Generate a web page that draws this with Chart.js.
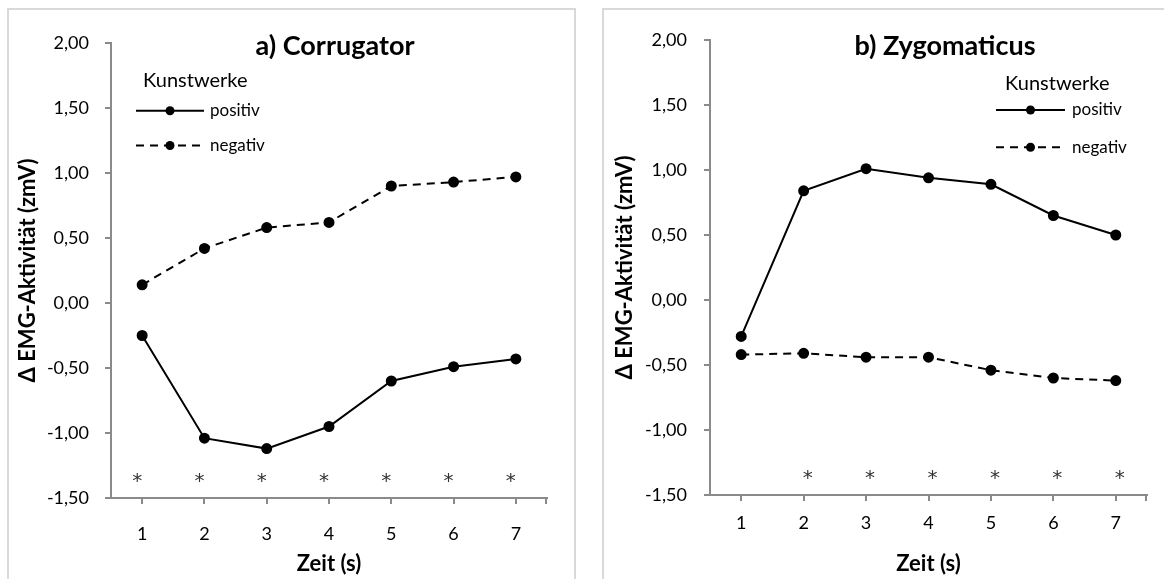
<!DOCTYPE html>
<html>
<head>
<meta charset="utf-8">
<script src="https://cdn.jsdelivr.net/npm/chart.js@4.4.1/dist/chart.umd.min.js"></script>
<style>
  html, body { margin: 0; padding: 0; background: #ffffff; }
  body { width: 1164px; height: 579px; position: relative; overflow: hidden; }
  .frame { position: absolute; border: 2px solid #d9d9d9; box-sizing: border-box; }
  #frameA { left: 7px; top: 8px; width: 569px; height: 590px; }
  #frameB { left: 602px; top: 8px; width: 600px; height: 590px; }
  canvas { position: absolute; top: 0; }
  #chartA { left: 0px; }
  #chartB { left: 590px; }
</style>
</head>
<body>
<div class="frame" id="frameA"></div>
<div class="frame" id="frameB"></div>
<canvas id="chartA" width="580" height="579" style="width:580px;height:579px"></canvas>
<canvas id="chartB" width="574" height="579" style="width:574px;height:579px"></canvas>
<script>
// ---- data ----
const categories = ['1', '2', '3', '4', '5', '6', '7'];
const seriesNames = ['positiv', 'negativ'];
const legendTitle = 'Kunstwerke';

const corrugatorTitle = 'a) Corrugator';
const corrugatorPositiv = [-0.25, -1.04, -1.12, -0.95, -0.60, -0.49, -0.43];
const corrugatorNegativ = [0.14, 0.42, 0.58, 0.62, 0.90, 0.93, 0.97];
const corrugatorSignificant = [true, true, true, true, true, true, true];

const zygomaticusTitle = 'b) Zygomaticus';
const zygomaticusPositiv = [-0.28, 0.84, 1.01, 0.94, 0.89, 0.65, 0.50];
const zygomaticusNegativ = [-0.42, -0.41, -0.44, -0.44, -0.54, -0.60, -0.62];
const zygomaticusSignificant = [false, true, true, true, true, true, true];

const yMin = -1.5;
const yMax = 2.0;
const yStep = 0.5;
const xAxisTitle = 'Zeit (s)';
const yAxisTitle = 'Δ EMG-Aktivität (zmV)';

// ---- styling ----
const FONT = "Lato, 'Open Sans', 'DejaVu Sans', sans-serif";
const AXIS_COLOR = '#8a8a8a';

// plugin: panel title, legend, axis end tick and significance asterisks
const panelPlugin = {
  id: 'panelDecor',
  afterDatasetsDraw(chart, args, opts) {
    const ctx = chart.ctx;
    const xs = chart.scales.x, ys = chart.scales.y;
    ctx.save();
    // closing tick at the right end of the x axis
    ctx.strokeStyle = AXIS_COLOR;
    ctx.lineWidth = 2;
    ctx.beginPath();
    ctx.moveTo(xs.right - 1, xs.top);
    ctx.lineTo(xs.right - 1, xs.top + 6);
    ctx.stroke();
    // asterisks
    ctx.fillStyle = '#333333';
    ctx.font = opts.starFont;
    ctx.textAlign = 'center';
    ctx.textBaseline = 'alphabetic';
    const m = ctx.measureText('*');
    const asc = m.actualBoundingBoxAscent, desc = m.actualBoundingBoxDescent;
    opts.significant.forEach((s, i) => {
      if (!s) return;
      const x = xs.getPixelForValue(i) + opts.starDx;
      const y = ys.getPixelForValue(opts.starValue);
      ctx.fillText('*', x, y + (asc - desc) / 2);
    });
    // title
    ctx.fillStyle = '#000000';
    ctx.font = opts.titleFont;
    ctx.textAlign = 'center';
    ctx.textBaseline = 'middle';
    ctx.fillText(opts.title, opts.titleX, opts.titleY);
    // legend title
    ctx.font = opts.legendTitleFont;
    ctx.textAlign = 'left';
    ctx.fillText(opts.legendTitle, opts.legendTitleX, opts.legendTitleY);
    // legend items
    chart.data.datasets.forEach((ds, i) => {
      const y = opts.legendY[i];
      const x0 = opts.legendLineX0, x1 = opts.legendLineX1;
      ctx.strokeStyle = ds.borderColor;
      ctx.lineWidth = ds.borderWidth;
      ctx.setLineDash(ds.borderDash || []);
      ctx.lineDashOffset = opts.legendDashOffset;
      ctx.beginPath();
      ctx.moveTo(x0, y);
      ctx.lineTo(x1, y);
      ctx.stroke();
      ctx.setLineDash([]);
      ctx.fillStyle = ds.pointBackgroundColor;
      ctx.beginPath();
      ctx.arc((x0 + x1) / 2, y, ds.pointRadius, 0, Math.PI * 2);
      ctx.fill();
      ctx.fillStyle = '#000000';
      ctx.font = opts.legendFont;
      ctx.textBaseline = 'middle';
      ctx.fillText(ds.label, opts.legendTextX, y);
    });
    ctx.restore();
  }
};

function fmt(v) { return v.toFixed(2).replace('.', ','); }

function makeChart(id, positiv, negativ, sig, L) {
  const ds = (label, data, dash) => ({
    label, data,
    borderColor: '#000000',
    backgroundColor: '#000000',
    pointBackgroundColor: '#000000',
    pointBorderColor: '#000000',
    borderWidth: 2,
    borderDash: dash,
    pointRadius: 4.5,
    pointHoverRadius: 4.5,
    tension: 0,
    fill: false
  });
  return new Chart(document.getElementById(id), {
    type: 'line',
    data: {
      labels: categories,
      datasets: [ds(seriesNames[0], positiv, []), ds(seriesNames[1], negativ, [8, 6])]
    },
    plugins: [panelPlugin],
    options: {
      responsive: false,
      animation: false,
      events: [],
      layout: { padding: L.padding },
      plugins: {
        legend: { display: false },
        title: { display: false },
        tooltip: { enabled: false },
        panelDecor: Object.assign({
          significant: sig,
          starValue: -1.34,
          starFont: "20px 'DejaVu Sans', sans-serif",
          titleFont: "bold 27px " + FONT,
          legendTitle: legendTitle,
          legendTitleFont: "20px " + FONT,
          legendFont: "17px " + FONT,
          legendDashOffset: 0
        }, L.decor)
      },
      scales: {
        x: {
          type: 'category',
          offset: true,
          afterFit: (s) => { s.height = L.xHeight; },
          grid: { display: true, drawOnChartArea: false, drawTicks: true, tickLength: 6, offset: false, color: AXIS_COLOR, lineWidth: 2 },
          border: { display: true, color: AXIS_COLOR, width: 2 },
          ticks: { color: '#000000', font: { family: FONT, size: 18 }, padding: L.xTickPad, maxRotation: 0 },
          title: { display: true, text: xAxisTitle, color: '#000000', font: { family: FONT, size: 22, weight: 'bold' }, padding: { top: 0, bottom: 2 } }
        },
        y: {
          min: yMin, max: yMax,
          afterFit: (s) => { s.width = L.yWidth; },
          grid: { display: true, drawOnChartArea: false, drawTicks: true, tickLength: 6, color: AXIS_COLOR, lineWidth: 2 },
          border: { display: true, color: AXIS_COLOR, width: 2 },
          ticks: { stepSize: yStep, color: '#000000', font: { family: FONT, size: 18 }, padding: L.yTickPad, callback: (v) => fmt(v) },
          title: { display: true, text: yAxisTitle, color: '#000000', font: { family: FONT, size: 22, weight: 'bold' }, padding: { top: L.yTitlePad, bottom: 0 } }
        }
      }
    }
  });
}

makeChart('chartA', corrugatorPositiv, corrugatorNegativ, corrugatorSignificant, {
  padding: { left: 10, top: 43, right: 33, bottom: 0 },
  yWidth: 101, xHeight: 81, xTickPad: 19, yTickPad: 16, yTitlePad: 5,
  decor: {
    title: corrugatorTitle, titleX: 335, titleY: 46, starDx: -5,
    legendTitleX: 143, legendTitleY: 80.5,
    legendLineX0: 136, legendLineX1: 204, legendTextX: 210, legendY: [110.7, 145.5]
  }
});

makeChart('chartB', zygomaticusPositiv, zygomaticusNegativ, zygomaticusSignificant, {
  padding: { left: 15, top: 40, right: 17, bottom: 0 },
  yWidth: 105, xHeight: 84, xTickPad: 11, yTickPad: 17, yTitlePad: 7,
  decor: {
    title: zygomaticusTitle, titleX: 355, titleY: 46, starDx: 4,
    legendTitleX: 415, legendTitleY: 84,
    legendLineX0: 406, legendLineX1: 475, legendTextX: 482, legendY: [110, 147.3]
  }
});
</script>
</body>
</html>
